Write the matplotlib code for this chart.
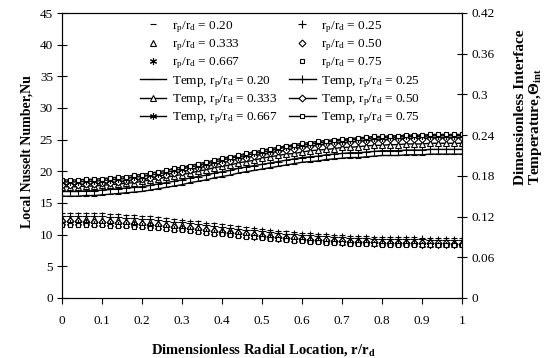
import numpy as np
import matplotlib
matplotlib.use("Agg")
import matplotlib.pyplot as plt

plt.rcParams["font.family"] = ["Liberation Serif", "DejaVu Serif"]
plt.rcParams["mathtext.fontset"] = "custom"
plt.rcParams["mathtext.rm"] = "Liberation Serif"
plt.rcParams["mathtext.it"] = "Liberation Serif:italic"
plt.rcParams["mathtext.bf"] = "Liberation Serif:bold"

# radial location r/r_d
r = np.linspace(0, 1, 51)

ratios = ["0.20", "0.25", "0.333", "0.50", "0.667", "0.75"]

# local Nusselt number (left axis)
nu_020 = [13.50, 13.50, 13.49, 13.47, 13.43, 13.38, 13.32, 13.25, 13.18, 13.10, 13.02, 12.90, 12.78, 12.65, 12.52, 12.38, 12.23,
          12.08, 11.92, 11.77, 11.62, 11.47, 11.33, 11.18, 11.04, 10.90, 10.77, 10.65, 10.53, 10.41, 10.30, 10.21, 10.13, 10.05,
          9.97, 9.90, 9.85, 9.80, 9.75, 9.70, 9.66, 9.63, 9.60, 9.58, 9.56, 9.54, 9.53, 9.52, 9.51, 9.50, 9.50]
nu_025 = [13.00, 13.00, 12.99, 12.97, 12.94, 12.89, 12.83, 12.76, 12.70, 12.62, 12.54, 12.43, 12.32, 12.19, 12.07, 11.94, 11.79,
          11.65, 11.50, 11.36, 11.21, 11.07, 10.94, 10.80, 10.66, 10.53, 10.41, 10.29, 10.18, 10.07, 9.96, 9.88, 9.80, 9.72,
          9.65, 9.58, 9.53, 9.48, 9.44, 9.39, 9.35, 9.33, 9.30, 9.28, 9.26, 9.24, 9.23, 9.22, 9.21, 9.20, 9.20]
nu_0333 = [12.50, 12.50, 12.49, 12.47, 12.44, 12.39, 12.34, 12.28, 12.21, 12.14, 12.07, 11.96, 11.85, 11.74, 11.61, 11.49, 11.36,
           11.22, 11.08, 10.95, 10.81, 10.68, 10.55, 10.42, 10.29, 10.16, 10.05, 9.93, 9.83, 9.72, 9.62, 9.54, 9.47, 9.39,
           9.33, 9.26, 9.21, 9.17, 9.12, 9.08, 9.04, 9.02, 8.99, 8.97, 8.95, 8.94, 8.93, 8.91, 8.91, 8.90, 8.90]
nu_050 = [12.10, 12.10, 12.09, 12.07, 12.04, 12.00, 11.94, 11.88, 11.82, 11.75, 11.68, 11.58, 11.47, 11.36, 11.24, 11.12, 10.99,
          10.85, 10.72, 10.59, 10.46, 10.33, 10.20, 10.07, 9.95, 9.83, 9.71, 9.60, 9.50, 9.40, 9.30, 9.22, 9.15, 9.08,
          9.01, 8.95, 8.90, 8.86, 8.82, 8.78, 8.74, 8.72, 8.69, 8.67, 8.65, 8.64, 8.62, 8.61, 8.61, 8.60, 8.60]
nu_0667 = [11.80, 11.80, 11.79, 11.77, 11.74, 11.70, 11.64, 11.59, 11.53, 11.46, 11.39, 11.29, 11.19, 11.08, 10.96, 10.85, 10.72,
           10.59, 10.46, 10.33, 10.21, 10.08, 9.95, 9.83, 9.71, 9.60, 9.48, 9.37, 9.27, 9.18, 9.08, 9.00, 8.93, 8.87,
           8.80, 8.74, 8.69, 8.65, 8.61, 8.57, 8.54, 8.52, 8.49, 8.47, 8.45, 8.44, 8.42, 8.41, 8.41, 8.40, 8.40]
nu_075 = [11.60, 11.60, 11.59, 11.57, 11.54, 11.50, 11.44, 11.40, 11.34, 11.27, 11.20, 11.10, 11.01, 10.90, 10.78, 10.68, 10.55,
          10.43, 10.30, 10.18, 10.06, 9.93, 9.80, 9.69, 9.57, 9.47, 9.35, 9.24, 9.15, 9.06, 8.96, 8.88, 8.81, 8.76,
          8.69, 8.63, 8.58, 8.54, 8.50, 8.46, 8.44, 8.42, 8.39, 8.37, 8.35, 8.34, 8.32, 8.31, 8.31, 8.30, 8.30]

# dimensionless interface temperature (right axis)
t_020 = [0.150, 0.150, 0.150, 0.151, 0.151, 0.152, 0.153, 0.154, 0.155, 0.156, 0.157, 0.159, 0.161, 0.163, 0.165, 0.167, 0.170,
         0.172, 0.174, 0.177, 0.179, 0.181, 0.184, 0.186, 0.188, 0.190, 0.192, 0.194, 0.196, 0.198, 0.200, 0.201, 0.202, 0.204,
         0.205, 0.206, 0.207, 0.207, 0.208, 0.209, 0.210, 0.210, 0.210, 0.211, 0.211, 0.211, 0.212, 0.212, 0.212, 0.212, 0.212]
t_025 = [0.157, 0.157, 0.157, 0.158, 0.158, 0.159, 0.160, 0.161, 0.162, 0.163, 0.164, 0.166, 0.168, 0.170, 0.172, 0.174, 0.177,
         0.179, 0.181, 0.184, 0.186, 0.188, 0.191, 0.193, 0.195, 0.197, 0.199, 0.201, 0.203, 0.205, 0.207, 0.208, 0.209, 0.211,
         0.212, 0.213, 0.214, 0.214, 0.215, 0.216, 0.217, 0.217, 0.217, 0.218, 0.218, 0.218, 0.219, 0.219, 0.219, 0.219, 0.219]
t_0333 = [0.164, 0.164, 0.164, 0.165, 0.165, 0.166, 0.167, 0.168, 0.169, 0.170, 0.172, 0.174, 0.176, 0.178, 0.180, 0.182, 0.184,
          0.187, 0.189, 0.192, 0.194, 0.196, 0.199, 0.201, 0.203, 0.206, 0.208, 0.210, 0.212, 0.213, 0.215, 0.217, 0.218, 0.219,
          0.220, 0.222, 0.222, 0.223, 0.224, 0.225, 0.225, 0.226, 0.226, 0.227, 0.227, 0.227, 0.228, 0.228, 0.228, 0.228, 0.228]
t_050 = [0.167, 0.167, 0.167, 0.168, 0.168, 0.169, 0.170, 0.171, 0.173, 0.174, 0.175, 0.177, 0.179, 0.182, 0.184, 0.186, 0.189,
         0.192, 0.194, 0.197, 0.199, 0.202, 0.205, 0.207, 0.209, 0.212, 0.214, 0.216, 0.218, 0.220, 0.222, 0.224, 0.225, 0.227,
         0.228, 0.229, 0.230, 0.231, 0.232, 0.233, 0.233, 0.234, 0.234, 0.235, 0.235, 0.235, 0.236, 0.236, 0.236, 0.236, 0.236]
t_0667 = [0.171, 0.171, 0.171, 0.172, 0.172, 0.173, 0.174, 0.175, 0.176, 0.178, 0.179, 0.181, 0.183, 0.185, 0.188, 0.190, 0.193,
          0.195, 0.198, 0.200, 0.203, 0.206, 0.208, 0.210, 0.213, 0.215, 0.217, 0.220, 0.222, 0.224, 0.225, 0.227, 0.228, 0.230,
          0.231, 0.232, 0.233, 0.234, 0.235, 0.236, 0.236, 0.237, 0.237, 0.238, 0.238, 0.238, 0.239, 0.239, 0.239, 0.239, 0.239]
t_075 = [0.174, 0.174, 0.174, 0.175, 0.175, 0.176, 0.177, 0.178, 0.179, 0.181, 0.182, 0.184, 0.186, 0.188, 0.191, 0.193, 0.195,
         0.198, 0.200, 0.203, 0.206, 0.208, 0.210, 0.213, 0.215, 0.218, 0.220, 0.222, 0.224, 0.226, 0.228, 0.229, 0.231, 0.232,
         0.233, 0.234, 0.235, 0.236, 0.237, 0.238, 0.238, 0.239, 0.239, 0.240, 0.240, 0.240, 0.241, 0.241, 0.241, 0.241, 0.241]

nu_all = [nu_020, nu_025, nu_0333, nu_050, nu_0667, nu_075]
t_all = [t_020, t_025, t_0333, t_050, t_0667, t_075]

star = (6, 2, 0)
markers = ["_", "+", "^", "D", star, "s"]
msizes = [5, 6, 4.5, 3.5, 5, 3.5]
open_face = [False, False, True, True, False, True]

fig = plt.figure(figsize=(5.45, 3.58), dpi=100)
ax = fig.add_axes([62 / 545, 1 - 298 / 358, 400 / 545, 285 / 358])
ax2 = ax.twinx()

nu_lines = []
t_lines = []
for i in range(6):
    mfc = "white" if open_face[i] else "black"
    ln, = ax.plot(r, nu_all[i], linestyle="none", marker=markers[i], ms=msizes[i],
                  mfc=mfc, mec="black", mew=0.8, color="black",
                  label=r"r$_\mathrm{p}$/r$_\mathrm{d}$ = " + ratios[i])
    nu_lines.append(ln)
    lt, = ax2.plot(r, t_all[i], linestyle="-", lw=1.0, marker=markers[i], ms=msizes[i],
                   mfc=mfc, mec="black", mew=0.8, color="black",
                   label=r"Temp, r$_\mathrm{p}$/r$_\mathrm{d}$ = " + ratios[i])
    t_lines.append(lt)

ax.set_xlim(0, 1)
ax.set_ylim(0, 45)
ax2.set_ylim(0, 0.42)
ax.set_xticks(np.arange(0, 1.01, 0.1))
ax.set_xticklabels(["0", "0.1", "0.2", "0.3", "0.4", "0.5", "0.6", "0.7", "0.8", "0.9", "1"])
ax.set_yticks(np.arange(0, 46, 5))
ax2.set_yticks(np.arange(0, 0.43, 0.06))
ax2.set_yticklabels(["0", "0.06", "0.12", "0.18", "0.24", "0.3", "0.36", "0.42"])

ax.tick_params(axis="x", direction="out", length=4, width=0.8, labelsize=9.5, pad=8)
ax.tick_params(axis="y", direction="inout", length=7, width=0.8, labelsize=9.5, pad=3)
ax2.tick_params(axis="y", direction="inout", length=7, width=0.8, labelsize=9.5, pad=3)
for a in (ax, ax2):
    for sp in a.spines.values():
        sp.set_linewidth(0.8)

# legend filled column by column: left column then right column
order = [nu_lines[0], nu_lines[2], nu_lines[4], t_lines[0], t_lines[2], t_lines[4],
         nu_lines[1], nu_lines[3], nu_lines[5], t_lines[1], t_lines[3], t_lines[5]]
ax2.legend(handles=order, ncol=2, frameon=False, fontsize=9.5,
           loc="upper left", bbox_to_anchor=(140 / 545, 1 - 19 / 358),
           bbox_transform=fig.transFigure, borderpad=0, borderaxespad=0,
           handlelength=2.0, handletextpad=0.4, columnspacing=0.9, labelspacing=0.2)

fig.text(27 / 545, 1 - 152 / 358, "Local Nusselt Number,Nu", rotation=90,
         ha="center", va="center", fontsize=10, fontweight="bold")
fig.text(263 / 545, 1 - 350 / 358, r"Dimensionless Radial Location, r/r$_\mathbf{d}$",
         ha="center", va="center", fontsize=10.5, fontweight="bold")
fig.text(520 / 545, 1 - 185 / 358, "Dimensionless Interface", rotation=90,
         ha="center", va="bottom", fontsize=11, fontweight="bold")
fig.text(535 / 545, 1 - 185 / 358, r"Temperature,$\mathbf{\Theta}_\mathbf{int}$", rotation=90,
         ha="center", va="bottom", fontsize=11, fontweight="bold")

fig.savefig("out.png", dpi=100)
